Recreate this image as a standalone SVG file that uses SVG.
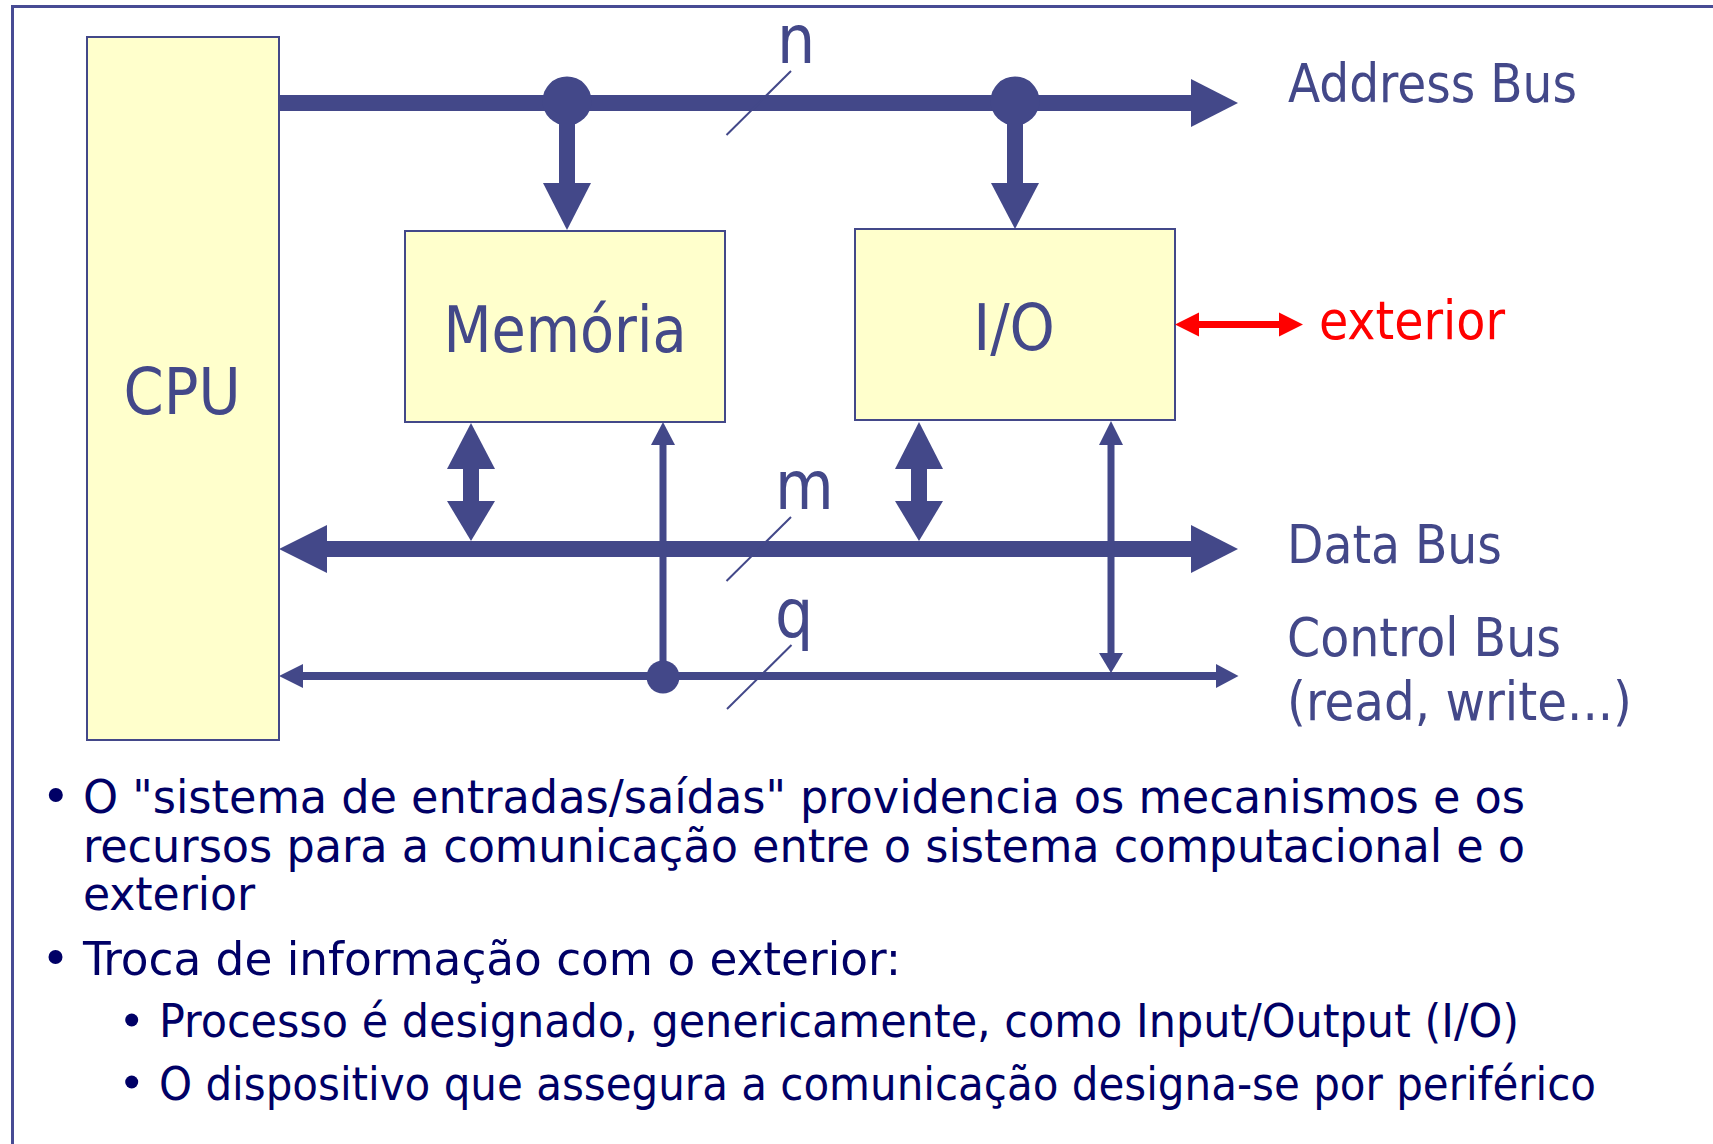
<svg xmlns="http://www.w3.org/2000/svg" width="1713" height="1144" viewBox="0 0 1713 1144">
<style>
.box{fill:#FFFFCC;stroke:#434889;stroke-width:2}
.lbl{font-family:"DejaVu Sans Condensed","DejaVu Sans",sans-serif;fill:#434889}
.big{font-size:64px;text-anchor:middle}
.bus{font-size:53px}
.w{font-size:67px}
.txt{font-family:"DejaVu Sans Condensed","DejaVu Sans",sans-serif;fill:#000066;font-size:46px}
.sub{font-size:46px}
.fill{fill:#434889}
.ln{stroke:#434889;fill:none}
</style>
<rect x="12.5" y="6.5" width="1760" height="1200" fill="none" stroke="#474B94" stroke-width="3"/>

<g id="cpu">
<rect class="box" x="87" y="37" width="192" height="703"/>
<text class="lbl big" x="182" y="414">CPU</text>
</g>
<g id="memoria">
<rect class="box" x="405" y="231" width="320" height="191"/>
<text class="lbl big" x="565" y="352" textLength="243" lengthAdjust="spacingAndGlyphs">Memória</text>
</g>
<g id="io">
<rect class="box" x="855" y="229" width="320" height="191"/>
<text class="lbl big" x="1014" y="350">I/O</text>
</g>

<g id="connectors">
<!-- Address bus -->
<rect class="fill" x="279" y="95" width="913" height="16"/>
<polygon class="fill" points="1191,79 1238,103 1191,127"/>
<circle class="fill" cx="567" cy="101" r="24.5"/>
<circle class="fill" cx="1015" cy="101" r="24.5"/>
<rect class="fill" x="559" y="101" width="16" height="83"/>
<polygon class="fill" points="543,183 591,183 567,230"/>
<rect class="fill" x="1007" y="101" width="16" height="83"/>
<polygon class="fill" points="991,183 1039,183 1015,229"/>
<line class="ln" x1="791" y1="71" x2="726.5" y2="135" stroke-width="2"/>

<!-- Data bus -->
<rect class="fill" x="326" y="541" width="866" height="16"/>
<polygon class="fill" points="327,525 279,549 327,573"/>
<polygon class="fill" points="1191,525 1238,549 1191,573"/>
<polygon class="fill" points="447,469 471,423 495,469"/>
<rect class="fill" x="463" y="468" width="16" height="34"/>
<polygon class="fill" points="447,501 495,501 471,541"/>
<polygon class="fill" points="895,469 919,422 943,469"/>
<rect class="fill" x="911" y="468" width="16" height="34"/>
<polygon class="fill" points="895,501 943,501 919,541"/>
<line class="ln" x1="791" y1="517" x2="726.5" y2="581" stroke-width="2"/>

<!-- Control bus -->
<rect class="fill" x="302" y="672" width="915" height="8"/>
<polygon class="fill" points="303,664 279,676 303,688"/>
<polygon class="fill" points="1216,664 1238.5,676 1216,688"/>
<rect class="fill" x="659.5" y="443" width="7" height="234"/>
<polygon class="fill" points="651,445 663,422 675,445"/>
<circle class="fill" cx="663" cy="677" r="16.5"/>
<rect class="fill" x="1107.5" y="443" width="7" height="212"/>
<polygon class="fill" points="1099,445 1111,421 1123,445"/>
<polygon class="fill" points="1099,653 1123,653 1111,673"/>
<line class="ln" x1="791.5" y1="645" x2="727" y2="709" stroke-width="2"/>

<!-- exterior arrow -->
<polygon fill="#FF0000" points="1175,324.5 1199,312.5 1199,321 1279,321 1279,312.5 1303,324.5 1279,336.5 1279,328 1199,328 1199,336.5"/>
</g>

<g id="labels">
<text class="lbl w" x="777" y="63">n</text>
<text class="lbl w" x="775" y="509">m</text>
<text class="lbl w" x="775" y="637">q</text>
<text class="lbl bus" x="1288" y="102" textLength="289" lengthAdjust="spacingAndGlyphs">Address Bus</text>
<text class="lbl bus" x="1319" y="339" textLength="186" lengthAdjust="spacingAndGlyphs" style="fill:#FF0000">exterior</text>
<text class="lbl bus" x="1287" y="563" textLength="215" lengthAdjust="spacingAndGlyphs">Data Bus</text>
<text class="lbl bus" x="1287" y="656" textLength="274" lengthAdjust="spacingAndGlyphs">Control Bus</text>
<text class="lbl bus" x="1287" y="720" textLength="345" lengthAdjust="spacingAndGlyphs">(read, write...)</text>
</g>

<g id="bullets">
<circle cx="55.8" cy="795" r="7" fill="#000066"/>
<text class="txt" x="83" y="813" textLength="1442" lengthAdjust="spacingAndGlyphs">O "sistema de entradas/saídas" providencia os mecanismos e os</text>
<text class="txt" x="83" y="862" textLength="1442" lengthAdjust="spacingAndGlyphs">recursos para a comunicação entre o sistema computacional e o</text>
<text class="txt" x="83" y="910" textLength="172" lengthAdjust="spacingAndGlyphs">exterior</text>
<circle cx="55.5" cy="957" r="7" fill="#000066"/>
<text class="txt" x="83" y="975" textLength="818" lengthAdjust="spacingAndGlyphs">Troca de informação com o exterior:</text>
<circle cx="131.7" cy="1020" r="6.5" fill="#000066"/>
<text class="txt sub" x="159" y="1037" textLength="1360" lengthAdjust="spacingAndGlyphs">Processo é designado, genericamente, como Input/Output (I/O)</text>
<circle cx="131.7" cy="1082" r="6.5" fill="#000066"/>
<text class="txt sub" x="159" y="1100" textLength="1437" lengthAdjust="spacingAndGlyphs">O dispositivo que assegura a comunicação designa-se por periférico</text>
</g>
</svg>
